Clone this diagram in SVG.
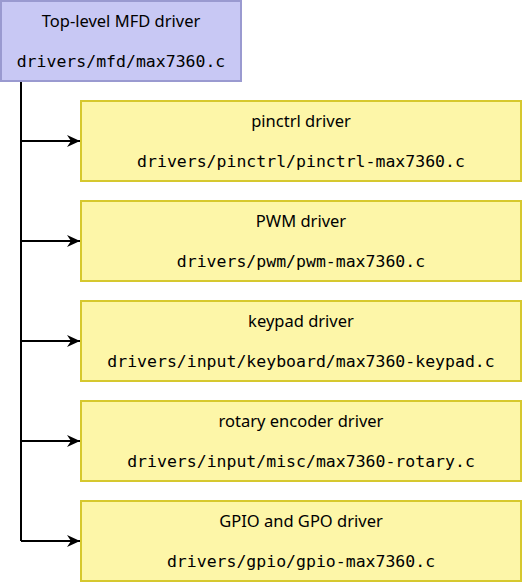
<svg xmlns="http://www.w3.org/2000/svg" width="522" height="582" viewBox="0 0 522 582">
<style>
.top{fill:#c8c8f4;stroke:#9a9ad0;stroke-width:2}
.sub{fill:#fdf6a8;stroke:#d6c82e;stroke-width:2}
.lbl{font-family:"Noto Sans","Open Sans",sans-serif;font-size:16.5px;fill:#000;text-anchor:middle}
.code{font-family:"DejaVu Sans Mono",monospace;font-size:16.5px;fill:#000;text-anchor:middle}
.conn{fill:none;stroke:#000;stroke-width:2}
</style>
<defs>
<marker id="arr" viewBox="0 0 13 12" refX="13" refY="6" markerWidth="13" markerHeight="12" markerUnits="userSpaceOnUse" orient="auto">
<path d="M0,0 L13,6 L0,12 L4,6 z" fill="#000"/>
</marker>
</defs>
<g id="connectors">
<path class="conn" d="M21,81 V541"/>
<path class="conn" d="M21,141 H80" marker-end="url(#arr)"/>
<path class="conn" d="M21,241 H80" marker-end="url(#arr)"/>
<path class="conn" d="M21,341 H80" marker-end="url(#arr)"/>
<path class="conn" d="M21,441 H80" marker-end="url(#arr)"/>
<path class="conn" d="M21,541 H80" marker-end="url(#arr)"/>
</g>
<g id="mfd">
<rect class="top" x="1" y="1" width="240" height="80"/>
<text class="lbl" x="121" y="27">Top-level MFD driver</text>
<text class="code" x="121" y="67">drivers/mfd/max7360.c</text>
</g>
<g id="pinctrl">
<rect class="sub" x="81" y="101" width="440" height="80"/>
<text class="lbl" x="301" y="127">pinctrl driver</text>
<text class="code" x="301" y="167">drivers/pinctrl/pinctrl-max7360.c</text>
</g>
<g id="pwm">
<rect class="sub" x="81" y="201" width="440" height="80"/>
<text class="lbl" x="301" y="227">PWM driver</text>
<text class="code" x="301" y="267">drivers/pwm/pwm-max7360.c</text>
</g>
<g id="keypad">
<rect class="sub" x="81" y="301" width="440" height="80"/>
<text class="lbl" x="301" y="327">keypad driver</text>
<text class="code" x="301" y="367">drivers/input/keyboard/max7360-keypad.c</text>
</g>
<g id="rotary">
<rect class="sub" x="81" y="401" width="440" height="80"/>
<text class="lbl" x="301" y="427">rotary encoder driver</text>
<text class="code" x="301" y="467">drivers/input/misc/max7360-rotary.c</text>
</g>
<g id="gpio">
<rect class="sub" x="81" y="501" width="440" height="80"/>
<text class="lbl" x="301" y="527">GPIO and GPO driver</text>
<text class="code" x="301" y="567">drivers/gpio/gpio-max7360.c</text>
</g>
</svg>
